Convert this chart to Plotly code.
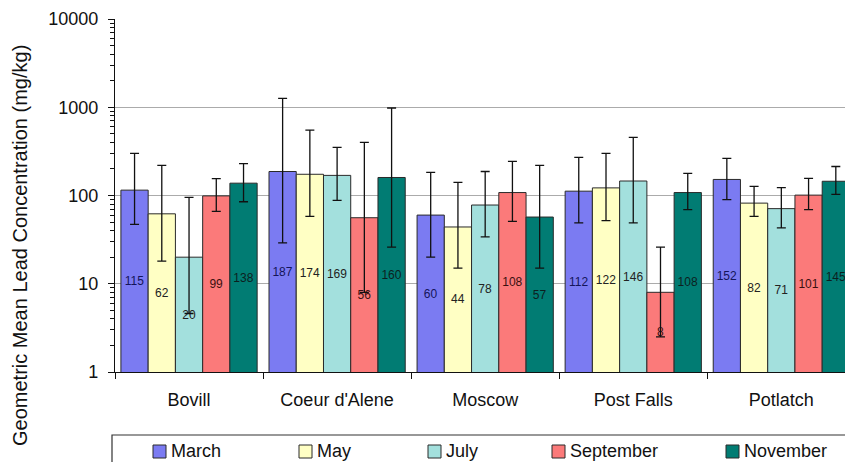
import plotly.graph_objects as go

# Sampling towns and collection months
towns = ["Bovill", "Coeur d'Alene", "Moscow", "Post Falls", "Potlatch"]
months = ["March", "May", "July", "September", "November"]

# Geometric mean lead concentration (mg/kg), one list per month
march = [115, 187, 60, 112, 152]
may = [62, 174, 44, 122, 82]
july = [20, 169, 78, 146, 71]
september = [99, 56, 108, 8, 101]
november = [138, 160, 57, 108, 145]

# Upper and lower ends of the error bars (mg/kg)
march_hi = [300, 1260, 183, 270, 263]
march_lo = [47, 29, 20, 49, 90]
may_hi = [219, 550, 141, 300, 127]
may_lo = [18, 58, 15, 52, 58]
july_hi = [95, 351, 187, 455, 123]
july_lo = [4.6, 88, 34, 49, 43]
september_hi = [155, 400, 244, 26, 156]
september_lo = [66, 8, 51, 2.5, 69]
november_hi = [230, 980, 219, 178, 213]
november_lo = [85, 26, 15, 69, 103]

values = [march, may, july, september, november]
highs = [march_hi, may_hi, july_hi, september_hi, november_hi]
lows = [march_lo, may_lo, july_lo, september_lo, november_lo]

fill_colors = ["#7b7bf2", "#ffffc4", "#a3e0dd", "#fb7a7a", "#017c73"]
label_colors = ["#14145a", "#222222", "#222222", "#3a1010", "#0c1f1f"]

FONT = "Liberation Sans, Arial, sans-serif"
INK = "#111111"

W, H = 845, 462
ML, MT, MB = 115, 19, 90
PLOT_W = W - ML
PLOT_H = H - MT - MB


def px_x(px):
    """Horizontal pixel -> paper coordinate."""
    return (px - ML) / PLOT_W


def px_y(py):
    """Vertical pixel (from top) -> paper coordinate."""
    return (H - MB - py) / PLOT_H


fig = go.Figure()
for name, vals, hi, lo, color, tcolor in zip(months, values, highs, lows,
                                             fill_colors, label_colors):
    fig.add_trace(go.Bar(
        name=name,
        x=towns,
        y=vals,
        marker=dict(color=color, line=dict(color="#2a2a2a", width=1)),
        text=[str(v) for v in vals],
        textposition="inside",
        insidetextanchor="middle",
        textangle=0,
        constraintext="none",
        insidetextfont=dict(family=FONT, size=12, color=tcolor),
        error_y=dict(
            type="data",
            symmetric=False,
            array=[h - v for h, v in zip(hi, vals)],
            arrayminus=[v - l for v, l in zip(vals, lo)],
            color=INK,
            thickness=1.3,
            width=4.5,
        ),
    ))

fig.update_layout(
    width=W,
    height=H,
    margin=dict(l=ML, r=0, t=MT, b=MB, autoexpand=False),
    paper_bgcolor="white",
    plot_bgcolor="white",
    barmode="group",
    bargap=0.08,
    bargroupgap=0,
    font=dict(family=FONT, size=18, color=INK),
    showlegend=False,
    xaxis=dict(
        range=[-0.5, 4.43],
        showline=True,
        linecolor=INK,
        linewidth=1.2,
        ticks="outside",
        tickson="boundaries",
        ticklen=6,
        tickcolor=INK,
        showgrid=False,
        tickfont=dict(family=FONT, size=18, color=INK),
        ticklabelstandoff=11,
    ),
    yaxis=dict(
        type="log",
        range=[0, 4],
        tickvals=[1, 10, 100, 1000, 10000],
        ticktext=["1", "10", "100", "1000", "10000"],
        showline=True,
        linecolor=INK,
        linewidth=1.2,
        ticks="outside",
        ticklen=6,
        tickcolor=INK,
        showgrid=True,
        gridcolor="#ababab",
        gridwidth=1,
        zeroline=False,
        tickfont=dict(family=FONT, size=18, color=INK),
        ticklabelstandoff=6,
        minor=dict(
            ticks="outside",
            ticklen=4,
            tickcolor=INK,
            tickvals=[m * 10 ** d for d in range(4) for m in range(2, 10)],
            showgrid=False,
        ),
    ),
)

# Y-axis caption, centred on the full chart height
fig.add_annotation(
    text="Geometric Mean Lead Concentration (mg/kg)",
    xref="paper", yref="paper",
    x=px_x(20), y=px_y(246),
    xanchor="center", yanchor="middle",
    textangle=-90,
    showarrow=False,
    font=dict(family=FONT, size=20, color=INK),
)

# Key row: framed box with a colour swatch and month name per series
fig.add_shape(
    type="rect",
    xref="paper", yref="paper",
    x0=px_x(112), x1=px_x(900),
    y0=px_y(480), y1=px_y(435),
    line=dict(color="#333333", width=1.2),
    fillcolor="rgba(0,0,0,0)",
)
swatch_left = [153, 299, 428, 552, 726]
for left, name, color in zip(swatch_left, months, fill_colors):
    fig.add_shape(
        type="rect",
        xref="paper", yref="paper",
        x0=px_x(left), x1=px_x(left + 13),
        y0=px_y(458), y1=px_y(445),
        line=dict(color="#2a2a2a", width=1),
        fillcolor=color,
    )
    fig.add_annotation(
        text=name,
        xref="paper", yref="paper",
        x=px_x(left + 16), y=px_y(451),
        xanchor="left", yanchor="middle",
        showarrow=False,
        font=dict(family=FONT, size=18, color=INK),
    )

fig.write_html("out.html")
